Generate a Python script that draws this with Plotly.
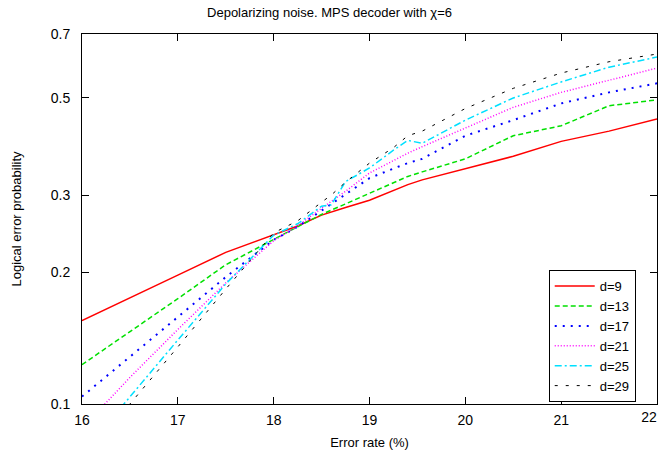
import plotly.graph_objects as go

# error rate (%) grid shared by all curves
error_rate = [16, 16.5, 17, 17.5, 18, 18.25, 18.5, 18.6, 18.75, 19, 19.25, 19.4, 19.55, 20, 20.5, 21, 21.5, 22]

# logical error probability for each code distance
p_d9 = [0.155, 0.175, 0.197, 0.222, 0.243, 0.255, 0.270, 0.274, 0.281, 0.292, 0.307, 0.317, 0.325, 0.345, 0.368, 0.398, 0.420, 0.448]
p_d13 = [0.123, 0.146, 0.174, 0.208, 0.238, 0.254, 0.271, 0.277, 0.286, 0.302, 0.320, 0.331, 0.339, 0.363, 0.410, 0.432, 0.480, 0.495]
p_d17 = [0.104, 0.128, 0.158, 0.195, 0.237, 0.254, 0.277, 0.286, 0.301, 0.328, 0.345, 0.355, 0.363, 0.410, 0.445, 0.486, 0.515, 0.540]
p_d21 = [0.088, 0.115, 0.148, 0.189, 0.236, 0.255, 0.280, 0.290, 0.306, 0.337, 0.360, 0.374, 0.387, 0.426, 0.476, 0.515, 0.550, 0.585]
p_d25 = [0.077, 0.104, 0.140, 0.188, 0.243, 0.258, 0.283, 0.285, 0.322, 0.346, 0.380, 0.400, 0.394, 0.445, 0.500, 0.544, 0.588, 0.620]
p_d29 = [0.072, 0.100, 0.135, 0.183, 0.246, 0.262, 0.289, 0.300, 0.321, 0.355, 0.385, 0.410, 0.420, 0.473, 0.526, 0.570, 0.605, 0.630]

y_ticks = [0.1, 0.2, 0.3, 0.5, 0.7]
y_tick_labels = ["0.1", "0.2", "0.3", "0.5", "0.7"]
x_ticks = [16, 17, 18, 19, 20, 21, 22]
x_tick_labels = ["16", "17", "18", "19", "20", "21", ""]
last_tick = [22]
last_tick_label = ["22"]

series = [
    ("d=9", p_d9, "#ff0000", "solid", 1.5),
    ("d=13", p_d13, "#00e000", "5px,3px", 1.5),
    ("d=17", p_d17, "#0000ff", "2px,6px", 2),
    ("d=21", p_d21, "#ff00ff", "1px,2px", 1.5),
    ("d=25", p_d25, "#00e0ff", "7px,3px,2px,3px", 1.5),
    ("d=29", p_d29, "#000000", "3px,8px", 1),
]

fig = go.Figure()
for name, vals, color, dash, w in series:
    fig.add_trace(go.Scatter(x=error_rate, y=vals, mode="lines", name=name,
                             line=dict(color=color, dash=dash, width=w)))
# same d=9 data on the helper axis, hidden, so that axis gets drawn
fig.add_trace(go.Scatter(x=error_rate, y=p_d9, xaxis="x2", mode="lines", visible=True,
                         line=dict(width=0), opacity=0, showlegend=False, hoverinfo="skip"))

axis_style = dict(showline=True, linecolor="black", linewidth=1, mirror="ticks",
                  ticks="inside", ticklen=7, tickcolor="black", showgrid=False,
                  zeroline=False, automargin=False,
                  tickfont=dict(size=14, color="black"))

fig.update_xaxes(range=[16, 22], tickvals=x_ticks, ticktext=x_tick_labels, ticklabelstandoff=3,
                 title=dict(text="Error rate (%)", font=dict(size=13), standoff=11),
                 **axis_style)
fig.update_yaxes(type="log", range=[-1, -0.1549], tickvals=y_ticks, ticktext=y_tick_labels,
                 ticklabelstandoff=8,
                 title=dict(text="Logical error probability", font=dict(size=13), standoff=26), **axis_style)

fig.update_layout(
    width=659, height=460,
    margin=dict(l=82, r=2, t=34, b=56, autoexpand=False),
    paper_bgcolor="white", plot_bgcolor="white",
    font=dict(family="Liberation Sans, Arial, sans-serif", size=13, color="black"),
    title=dict(text="Depolarizing noise. MPS decoder with χ=6", x=0.5, xanchor="center",
               yref="container", y=1 - 12 / 460, yanchor="middle", font=dict(size=13)),
    # extra axis only to pull the last label inside the window, like gnuplot
    xaxis2=dict(overlaying="x", side="bottom", range=[16, 22], tickvals=last_tick,
                ticktext=last_tick_label, ticklabelshift=-8, ticklabelstandoff=3,
                ticklabeloverflow="allow",
                ticks="", showline=False, showgrid=False, zeroline=False, automargin=False,
                tickfont=dict(size=14, color="black")),
    legend=dict(x=0.963, y=0.005, xanchor="right", yanchor="bottom",
                bordercolor="black", borderwidth=1, bgcolor="white",
                font=dict(size=13), tracegroupgap=0, itemwidth=40),
)

fig.write_html("out.html", config={"displayModeBar": False},
               post_script="document.body.style.margin='0';")
